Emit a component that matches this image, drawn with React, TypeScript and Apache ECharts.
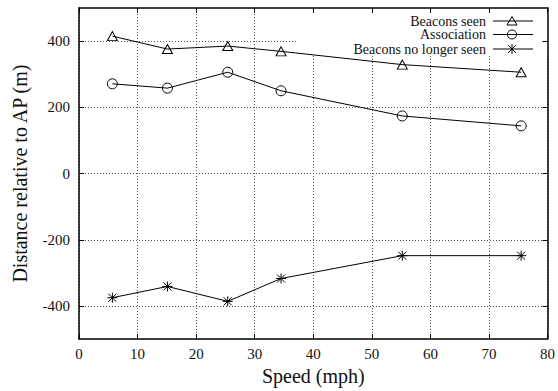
import React, { useEffect, useRef } from "react";
import * as echarts from "echarts";

const speeds = [5.7, 15.1, 25.4, 34.5, 55.2, 75.5];
const beaconsSeen = [415, 376, 385, 369, 329, 306];
const association = [271, 258, 306, 250, 174, 144];
const beaconsLost = [-375, -341, -386, -317, -248, -248];
const legendNames = ["Beacons seen", "Association", "Beacons no longer seen"];
const yTicks = [-400, -200, 0, 200, 400];

const FONT = "'Liberation Serif', 'Times New Roman', 'DejaVu Serif', serif";
const STAR = "path://M5 0L5 10M0 5L10 5M1 1L9 9M1 9L9 1";

function pairs(ys: number[]) {
  return speeds.map((x, i) => [x, ys[i]]);
}

export default function App() {
  const ref = useRef<HTMLDivElement>(null);
  useEffect(() => {
    if (!ref.current) return;
    const chart = echarts.init(ref.current, undefined, { renderer: "svg" });
    const tickLabel = { fontFamily: FONT, fontSize: 15, color: "#111" };
    const lineSeries = (name: string, ys: number[], symbol: string, size: any) => ({
      type: "line",
      name,
      data: pairs(ys),
      symbol,
      symbolSize: size,
      showSymbol: true,
      z: 4,
      lineStyle: { color: "#000", width: 1 },
      itemStyle: { color: "transparent", borderColor: "#000", borderWidth: 1 },
    });
    const legendRows = [21, 34.5, 49];
    const lx0 = 493, lx1 = 533, lm = 512;
    const graphics: any[] = [
      {
        type: "rect",
        z: 1,
        shape: { x: 298, y: 9, width: 250, height: 46 },
        style: { fill: "#fff" },
      },
    ];
    legendRows.forEach((y, i) => {
      graphics.push({
        type: "text",
        z: 5,
        x: 486,
        y,
        style: {
          text: legendNames[i],
          fontFamily: FONT,
          fontSize: 14,
          fill: "#111",
          textAlign: "right",
          textVerticalAlign: "middle",
        },
      });
      graphics.push({
        type: "line",
        z: 5,
        shape: { x1: lx0, y1: y, x2: lx1, y2: y },
        style: { stroke: "#000", lineWidth: 1 },
      });
    });
    {
      const y = legendRows[0];
      graphics.push({
        type: "polygon",
        z: 5,
        shape: { points: [[507, y + 4], [517, y + 4], [512, y - 4.5]] },
        style: { fill: "none", stroke: "#000", lineWidth: 1 },
      });
    }
    {
      const y = legendRows[1];
      graphics.push({
        type: "circle",
        z: 5,
        shape: { cx: lm, cy: y, r: 4.5 },
        style: { fill: "none", stroke: "#000", lineWidth: 1 },
      });
    }
    {
      const y = legendRows[2];
      const segs = [
        [lm, y - 5, lm, y + 5],
        [lm - 4, y - 4, lm + 4, y + 4],
        [lm - 4, y + 4, lm + 4, y - 4],
      ];
      segs.forEach((s) =>
        graphics.push({
          type: "line",
          z: 5,
          shape: { x1: s[0], y1: s[1], x2: s[2], y2: s[3] },
          style: { stroke: "#000", lineWidth: 1 },
        })
      );
    }

    const split = { show: true, lineStyle: { color: "#555", type: [1, 2], width: 1 } };
    const frame = { show: true, onZero: false, lineStyle: { color: "#000", width: 1.5 } };
    const tick = { show: true, inside: true, length: 5, lineStyle: { color: "#000", width: 1 } };
    const yTick = { ...tick, customValues: yTicks };
    const nameStyle = { fontFamily: FONT, fontSize: 20, color: "#111" };

    chart.setOption({
      animation: false,
      backgroundColor: "#fff",
      grid: { left: 79, right: 9, top: 8, bottom: 45, containLabel: false },
      xAxis: [
        {
          type: "value",
          min: 0,
          max: 80,
          interval: 10,
          position: "bottom",
          z: 0,
          axisLine: frame,
          axisTick: tick,
          splitLine: split,
          axisLabel: { ...tickLabel, margin: 7 },
          name: "Speed (mph)",
          nameLocation: "middle",
          nameGap: 26,
          nameTextStyle: nameStyle,
        },
        {
          type: "value",
          min: 0,
          max: 80,
          interval: 10,
          position: "top",
          z: 3,
          axisLine: frame,
          axisTick: tick,
          splitLine: { show: false },
          axisLabel: { show: false },
        },
      ],
      yAxis: [
        {
          type: "value",
          min: -500,
          max: 500,
          interval: 100,
          position: "left",
          z: 0,
          axisLine: frame,
          axisTick: yTick,
          splitLine: split,
          axisLabel: {
            ...tickLabel,
            margin: 9,
            customValues: yTicks,
          },
          name: "Distance relative to AP (m)",
          nameLocation: "middle",
          nameGap: 49,
          nameTextStyle: nameStyle,
        },
        {
          type: "value",
          min: -500,
          max: 500,
          interval: 100,
          position: "right",
          z: 3,
          axisLine: frame,
          axisTick: yTick,
          splitLine: { show: false },
          axisLabel: { show: false },
        },
      ],
      graphic: graphics,
      series: [
        lineSeries(legendNames[0], beaconsSeen, "triangle", [10, 9]),
        lineSeries(legendNames[1], association, "circle", 10),
        lineSeries(legendNames[2], beaconsLost, STAR, 10),
      ],
    });
    return () => chart.dispose();
  }, []);
  return (
    <div
      ref={ref}
      style={{ position: "fixed", left: 0, top: 0, width: 558, height: 391, background: "#fff" }}
    />
  );
}
